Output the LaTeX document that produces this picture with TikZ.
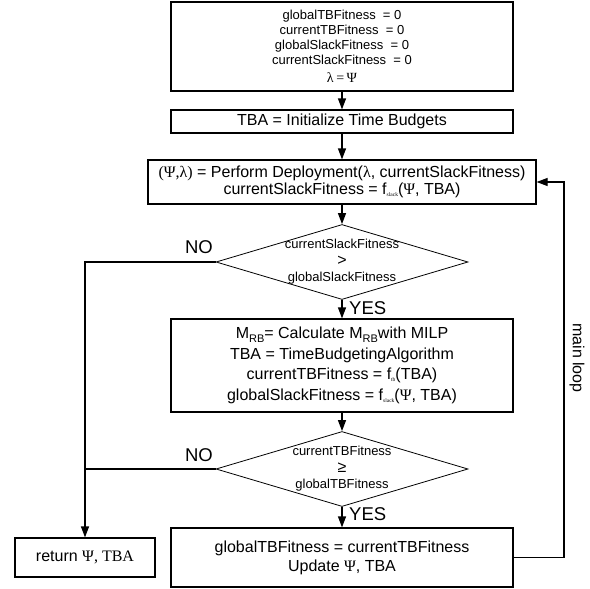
\documentclass[tikz,border=0pt]{standalone}
\usepackage{fontspec}
\setmainfont{Liberation Sans}
\newfontfamily\grk{Liberation Serif}
\usetikzlibrary{shapes.geometric,arrows.meta}
\newcommand{\gPsi}{{\grk Ψ}}
\newcommand{\gLam}{{\grk λ}}
\newcommand{\fsb}[1]{\raisebox{-2pt}{\grk\fontsize{5.5}{6}\selectfont #1}}
\newcommand{\MRB}{M\raisebox{-3.5pt}{\fontsize{11}{12}\selectfont RB}}
\begin{document}
\begin{tikzpicture}[x=1pt,y=-1pt,
  box/.style={draw,line width=1.2pt,inner sep=0pt,align=center,font=\fontsize{16}{19}\selectfont},
  dia/.style={draw,diamond,line width=0.8pt,inner sep=0pt,minimum width=252pt,minimum height=75pt},
  diatext/.style={align=center,font=\fontsize{13}{16.5}\selectfont,inner sep=0pt},
  conn/.style={line width=1.2pt,-{Triangle[length=11pt,width=8pt]}},
  plain/.style={line width=1.2pt},
  lbl/.style={font=\fontsize{18.5}{20}\selectfont,inner sep=0pt}]
\useasboundingbox (0,0) rectangle (590,589);
\node[box,minimum width=342pt,minimum height=89pt,font=\fontsize{13}{15}\selectfont] (b1) at (342,46.5)
  {globalTBFitness\ \ = 0\\currentTBFitness\ \ = 0\\globalSlackFitness\ \ = 0\\currentSlackFitness\ \ = 0\\[2.5pt]
   {\grk\fontsize{14}{14}\selectfont λ\hspace{2.5pt}=\hspace{2.5pt}Ψ}};
\node[box,minimum width=342pt,minimum height=23pt] (b2) at (342,121.5) {TBA = Initialize Time Budgets};
\node[box,minimum width=388pt,minimum height=44pt,font=\fontsize{16}{17.5}\selectfont] (b3) at (342,182)
  {{\grk(Ψ,λ)} = Perform Deployment(\gLam, currentSlackFitness)\\currentSlackFitness = f\fsb{slack}(\gPsi, TBA)};
\node[dia] (d1) at (342,262) {};
\node[diatext] (t1) at (d1.center) {currentSlackFitness\\{\fontsize{16}{16}\selectfont >}\\globalSlackFitness};
\node[box,minimum width=342pt,minimum height=93pt,font=\fontsize{16}{20.5}\selectfont] (b4) at (342,365.5)
  {\MRB= Calculate \MRB with MILP\\TBA = TimeBudgetingAlgorithm\\currentTBFitness = f\fsb{tb}(TBA)\\globalSlackFitness = f\fsb{slack}(\gPsi, TBA)};
\node[dia] (d2) at (342,469) {};
\node[diatext] (t2) at (d2.center) {currentTBFitness\\{\fontsize{16}{16}\selectfont ≥}\\globalTBFitness};
\node[box,minimum width=342pt,minimum height=59pt] (up) at (342,557.5)
  {globalTBFitness = currentTBFitness\\Update \gPsi, TBA};
\node[box,minimum width=140pt,minimum height=39pt] (ret) at (85,557.5) {return {\grk Ψ, TBA}};
\coordinate (lp) at (564,0);
\draw[conn] (b1) -- (b2);
\draw[conn] (b2) -- (b3);
\draw[conn] (b3) -- (d1);
\draw[conn] (d1) -- (b4);
\draw[conn] (b4) -- (d2);
\draw[conn] (d2) -- (up);
\draw[conn] (d1.west) -| (ret.north);
\draw[plain] (d2.west) -- (d2.west -| ret.north);
\draw[conn] (up.east) -- (up.east -| lp) -- (lp |- b3.east) -- (b3.east);
\node[lbl] (no1) at (199,247) {NO};
\node[lbl] (no2) at (199,455) {NO};
\node[lbl,anchor=west] (yes1) at (349,308) {YES};
\node[lbl,anchor=west] (yes2) at (349,514) {YES};
\node[lbl,font=\fontsize{16}{18}\selectfont,rotate=-90] (ml) at (577,358) {main loop};
\end{tikzpicture}
\end{document}
